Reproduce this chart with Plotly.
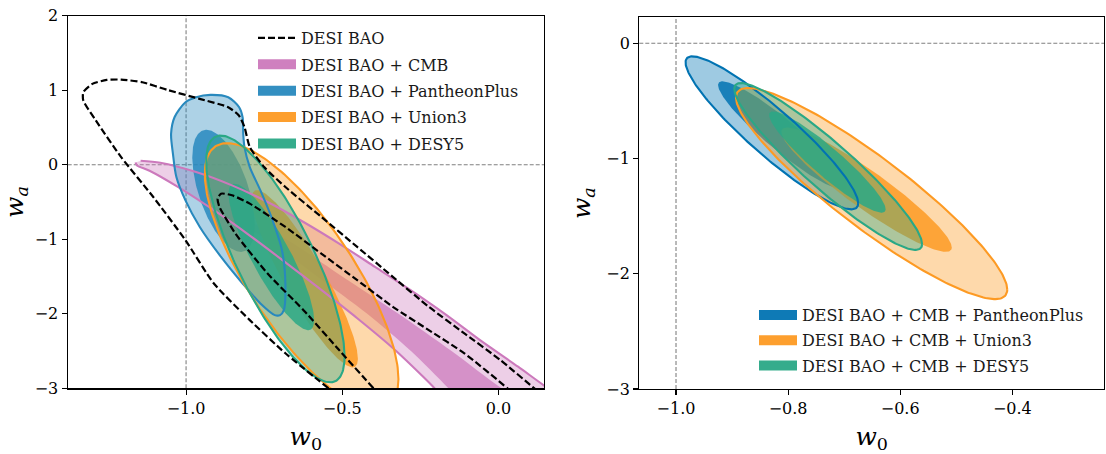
import numpy as np
import plotly.graph_objects as go

# ---------------- data ----------------
# DESI BAO alone (dashed, left panel): traced contour paths (w0, wa)
bao95_w0 = [-0.544, -0.682, -0.796, -0.911, -1.002, -1.105, -1.208, -1.289, -1.329, -1.329, -1.300, -1.254,
            -1.208, -1.140, -1.060, -0.957, -0.865, -0.831, -0.813, -0.796, -0.750, -0.682, -0.567, -0.452,
            -0.338, -0.223, -0.109, 0.006, 0.115, 0.16]
bao95_wa = [-3.0, -2.53, -2.085, -1.594, -1.013, -0.433, 0.103, 0.594, 0.862, 0.973, 1.085, 1.138,
            1.143, 1.107, 1.004, 0.884, 0.772, 0.661, 0.504, 0.237, -0.031, -0.299, -0.70, -1.103,
            -1.504, -1.906, -2.263, -2.62, -3.0, -3.15]
bao68_w0 = [-0.40, -0.510, -0.624, -0.739, -0.842, -0.893, -0.899, -0.888, -0.853, -0.796, -0.682, -0.567,
            -0.452, -0.338, -0.223, -0.109, 0.029, 0.06]
bao68_wa = [-3.0, -2.487, -1.951, -1.46, -0.924, -0.567, -0.455, -0.388, -0.41, -0.522, -0.835, -1.192,
            -1.549, -1.906, -2.219, -2.531, -3.0, -3.12]

# DESI BAO + CMB (left panel) traced contour paths
cmb95_w0 = [-1.1455, -1.0825, -0.968, -0.853, -0.739, -0.624, -0.510, -0.395, -0.281, -0.166, -0.052, 0.063, 0.166,
            0.35, -0.10, -0.20, -0.24, -0.338, -0.452, -0.567, -0.682, -0.796, -0.911, -1.025, -1.117, -1.157, -1.162]
cmb95_wa = [0.054, 0.027, -0.098, -0.277, -0.50, -0.768, -1.058, -1.371, -1.683, -2.018, -2.375, -2.71, -3.02,
            -3.5, -3.5, -3.02, -2.85, -2.46, -2.06, -1.68, -1.31, -0.95, -0.61, -0.30, -0.08, -0.009, 0.03]
cmb68_w0 = [-0.845, -0.80, -0.68, -0.50, -0.32, -0.15, 0.01, 0.20, -0.05, -0.16, -0.28, -0.42, -0.58, -0.74, -0.83,
            -0.85]
cmb68_wa = [-0.735, -0.77, -1.0, -1.5, -2.0, -2.5, -3.0, -3.5, -3.5, -3.0, -2.5, -2.0, -1.5, -1.0, -0.80, -0.745]

# DESI BAO + PantheonPlus (left panel) 95% traced contour
pp95_w0 = [-0.922, -0.865, -0.830, -0.819, -0.817, -0.813, -0.796, -0.762, -0.727, -0.693, -0.682, -0.687, -0.699,
           -0.716, -0.762, -0.819, -0.888, -0.956, -1.002, -1.031, -1.042, -1.048, -1.037, -1.002, -0.968, -0.922]
pp95_wa = [0.9375, 0.906, 0.772, 0.638, 0.415, 0.237, -0.031, -0.344, -0.701, -1.147, -1.594, -1.951, -2.018,
           -2.018, -1.862, -1.594, -1.237, -0.835, -0.478, -0.165, 0.147, 0.415, 0.638, 0.839, 0.906, 0.9375]

# Elliptical summaries: centre w0, centre wa, half-extent w0, half-extent wa, correlation
left_ell_names = ["pp68", "u3_95", "u3_68", "y5_95", "y5_68"]
left_cw0 = [-0.88, -0.63, -0.62, -0.714, -0.727]
left_cwa = [-0.35, -1.50, -1.53, -1.264, -1.237]
left_hw0 = [0.10, 0.31, 0.17, 0.2215, 0.137]
left_hwa = [0.82, 1.79, 1.19, 1.656, 0.983]
left_rho = [-0.55, -0.77, -0.90, -0.79, -0.86]

right_ell_names = ["pp95", "pp68", "u3_95", "u3_68", "y5_95", "y5_68"]
right_cw0 = [-0.829, -0.81, -0.651, -0.66, -0.7285, -0.73]
right_cwa = [-0.777, -0.80, -1.304, -1.27, -1.069, -1.03]
right_hw0 = [0.154, 0.115, 0.242, 0.152, 0.1675, 0.104]
right_hwa = [0.664, 0.47, 0.916, 0.54, 0.724, 0.44]
right_rho = [-0.92, -0.93, -0.91, -0.93, -0.93, -0.93]

left_legend = ["DESI BAO", "DESI BAO + CMB", "DESI BAO + PantheonPlus", "DESI BAO + Union3", "DESI BAO + DESY5"]
right_legend = ["DESI BAO + CMB + PantheonPlus", "DESI BAO + CMB + Union3", "DESI BAO + CMB + DESY5"]

left_xticks = [-1.0, -0.5, 0.0]
left_xtext = ["\u22121.0", "\u22120.5", "0.0"]
left_yticks = [-3, -2, -1, 0, 1, 2]
left_ytext = ["\u22123", "\u22122", "\u22121", "0", "1", "2"]
right_xticks = [-1.0, -0.8, -0.6, -0.4]
right_xtext = ["\u22121.0", "\u22120.8", "\u22120.6", "\u22120.4"]
right_yticks = [-3, -2, -1, 0]
right_ytext = ["\u22123", "\u22122", "\u22121", "0"]

# reference model (w0, wa) = (-1, 0)
ref_w0, ref_wa = -1.0, 0.0

# ---------------- styling ----------------
PINK = (204, 121, 188)
BLUE_L = (40, 137, 190)
BLUE_R = (1, 115, 178)
ORANGE = (253, 154, 35)
GREEN = (42, 168, 134)
FONT = "DejaVu Serif"


def rgba(c, a):
    return "rgba(%d,%d,%d,%.3f)" % (c[0], c[1], c[2], a)


def ellipse(cx, cy, hx, hy, rho, n=241):
    t = np.linspace(0, 2 * np.pi, n)
    x = cx + hx * np.cos(t)
    y = cy + hy * (rho * np.cos(t) + np.sqrt(1 - rho ** 2) * np.sin(t))
    return x, y


fig = go.Figure()
outlines = []


def add_fill(x, y, col, alpha, line=True, xa="x", ya="y", spline=False, lw=2.1):
    shape = "spline" if spline else "linear"
    fig.add_trace(go.Scatter(
        x=list(x), y=list(y), mode="lines", fill="toself", fillcolor=rgba(col, alpha),
        line=dict(color="rgba(0,0,0,0)", width=0, shape=shape, smoothing=0.8),
        xaxis=xa, yaxis=ya, showlegend=False, hoverinfo="skip"))
    if line:
        outlines.append(go.Scatter(
            x=list(x), y=list(y), mode="lines",
            line=dict(color=rgba(col, 1.0), width=lw, shape=shape, smoothing=0.8),
            xaxis=xa, yaxis=ya, showlegend=False, hoverinfo="skip"))


L = {n: i for i, n in enumerate(left_ell_names)}
R = {n: i for i, n in enumerate(right_ell_names)}


def lell(n):
    i = L[n]
    return ellipse(left_cw0[i], left_cwa[i], left_hw0[i], left_hwa[i], left_rho[i])


def rell(n):
    i = R[n]
    return ellipse(right_cw0[i], right_cwa[i], right_hw0[i], right_hwa[i], right_rho[i])


# ---- left panel fills ----
add_fill(cmb95_w0, cmb95_wa, PINK, 0.36, spline=True)
add_fill(cmb68_w0, cmb68_wa, PINK, 0.72, line=False, spline=True)
add_fill(pp95_w0, pp95_wa, BLUE_L, 0.38, spline=True)
x, y = lell("pp68"); add_fill(x, y, BLUE_L, 0.85, line=False)
x, y = lell("u3_95"); add_fill(x, y, ORANGE, 0.38)
x, y = lell("u3_68"); add_fill(x, y, ORANGE, 0.85, line=False)
x, y = lell("y5_95"); add_fill(x, y, GREEN, 0.38)
x, y = lell("y5_68"); add_fill(x, y, GREEN, 0.85, line=False)

# ---- right panel fills ----
x, y = rell("pp95"); add_fill(x, y, BLUE_R, 0.38, xa="x2", ya="y2")
x, y = rell("pp68"); add_fill(x, y, BLUE_R, 0.85, line=False, xa="x2", ya="y2")
x, y = rell("u3_95"); add_fill(x, y, ORANGE, 0.38, xa="x2", ya="y2")
x, y = rell("u3_68"); add_fill(x, y, ORANGE, 0.85, line=False, xa="x2", ya="y2")
x, y = rell("y5_95"); add_fill(x, y, GREEN, 0.38, xa="x2", ya="y2")
x, y = rell("y5_68"); add_fill(x, y, GREEN, 0.85, line=False, xa="x2", ya="y2")

# contour outlines on top of the fills
for tr in outlines:
    fig.add_trace(tr)

# DESI BAO alone: dashed contours, on top
for bx, by in [(bao95_w0, bao95_wa), (bao68_w0, bao68_wa)]:
    fig.add_trace(go.Scatter(x=bx, y=by, mode="lines",
                             line=dict(color="black", width=2.2, dash="7px,3px", shape="spline", smoothing=0.6),
                             showlegend=False, hoverinfo="skip"))

# ---- legends (legend-only proxies, one group per entry for row spacing) ----
fig.add_trace(go.Scatter(x=[None], y=[None], mode="lines", name=left_legend[0], legendgroup="l0",
                         line=dict(color="black", width=2.2, dash="7px,3px"), legend="legend"))
for k, (name, col) in enumerate(zip(left_legend[1:], [PINK, BLUE_L, ORANGE, GREEN])):
    fig.add_trace(go.Scatter(x=[None], y=[None], mode="lines", legendgroup="l%d" % (k + 1),
                             line=dict(width=13, color=rgba(col, 0.95)), name=name, legend="legend"))
for k, (name, col) in enumerate(zip(right_legend, [BLUE_R, ORANGE, GREEN])):
    fig.add_trace(go.Scatter(x=[None], y=[None], mode="lines", legendgroup="r%d" % k,
                             line=dict(width=13, color=rgba(col, 0.95)), name=name,
                             xaxis="x2", yaxis="y2", legend="legend2"))

# ---- reference lines ----
for xa, ya in [("x", "y"), ("x2", "y2")]:
    fig.add_shape(type="line", xref=xa, yref=ya + " domain", x0=ref_w0, x1=ref_w0, y0=0, y1=1,
                  line=dict(color="#808080", width=1.1, dash="4px,2px"), layer="below")
    fig.add_shape(type="line", xref=xa + " domain", yref=ya, x0=0, x1=1, y0=ref_wa, y1=ref_wa,
                  line=dict(color="#808080", width=1.1, dash="4px,2px"), layer="below")

W, H = 1106, 454
axis_common = dict(showline=True, linecolor="black", linewidth=1.2, mirror=True, ticks="outside",
                   ticklen=5, tickwidth=1.1, tickcolor="black", showgrid=False, zeroline=False,
                   automargin=False, tickfont=dict(family=FONT, size=16, color="black"))
title_font = dict(family=FONT, size=25, color="black")
legend_common = dict(xanchor="left", yanchor="top", bgcolor="rgba(0,0,0,0)",
                     font=dict(family=FONT, size=16, color="#1a1a1a"), itemwidth=38,
                     itemclick=False, itemdoubleclick=False)
fig.update_layout(
    template="none",
    width=W, height=H, margin=dict(l=0, r=0, t=0, b=0, autoexpand=False),
    plot_bgcolor="white", paper_bgcolor="white",
    font=dict(family=FONT, color="black"),
    xaxis=dict(domain=[67.7 / W, 544 / W], range=[-1.379, 0.146], tickvals=left_xticks, ticktext=left_xtext,
               title=dict(text="<i>w</i><sub>0</sub>", font=title_font, standoff=10),
               anchor="y", **axis_common),
    yaxis=dict(domain=[1 - 388.3 / H, 1 - 15.7 / H], range=[-3, 2], tickvals=left_yticks, ticktext=left_ytext,
               title=dict(text="<i>w</i><sub><i>a</i></sub>", font=title_font, standoff=8),
               anchor="x", **axis_common),
    xaxis2=dict(domain=[639.3 / W, 1104 / W], range=[-1.0655, -0.2364], tickvals=right_xticks,
                ticktext=right_xtext,
                title=dict(text="<i>w</i><sub>0</sub>", font=title_font, standoff=10),
                anchor="y2", **axis_common),
    yaxis2=dict(domain=[1 - 389 / H, 1 - 17.3 / H], range=[-3, 0.2257], tickvals=right_yticks,
                ticktext=right_ytext,
                title=dict(text="<i>w</i><sub><i>a</i></sub>", font=title_font, standoff=8),
                anchor="x2", **axis_common),
    legend=dict(x=253 / W, y=1 - 21 / H, tracegroupgap=2.6, **legend_common),
    legend2=dict(x=754 / W, y=1 - 298 / H, tracegroupgap=1.5, **legend_common),
)

fig.write_html("out.html", config={"displayModeBar": False, "staticPlot": True},
               post_script="document.body.style.margin='0px';")
